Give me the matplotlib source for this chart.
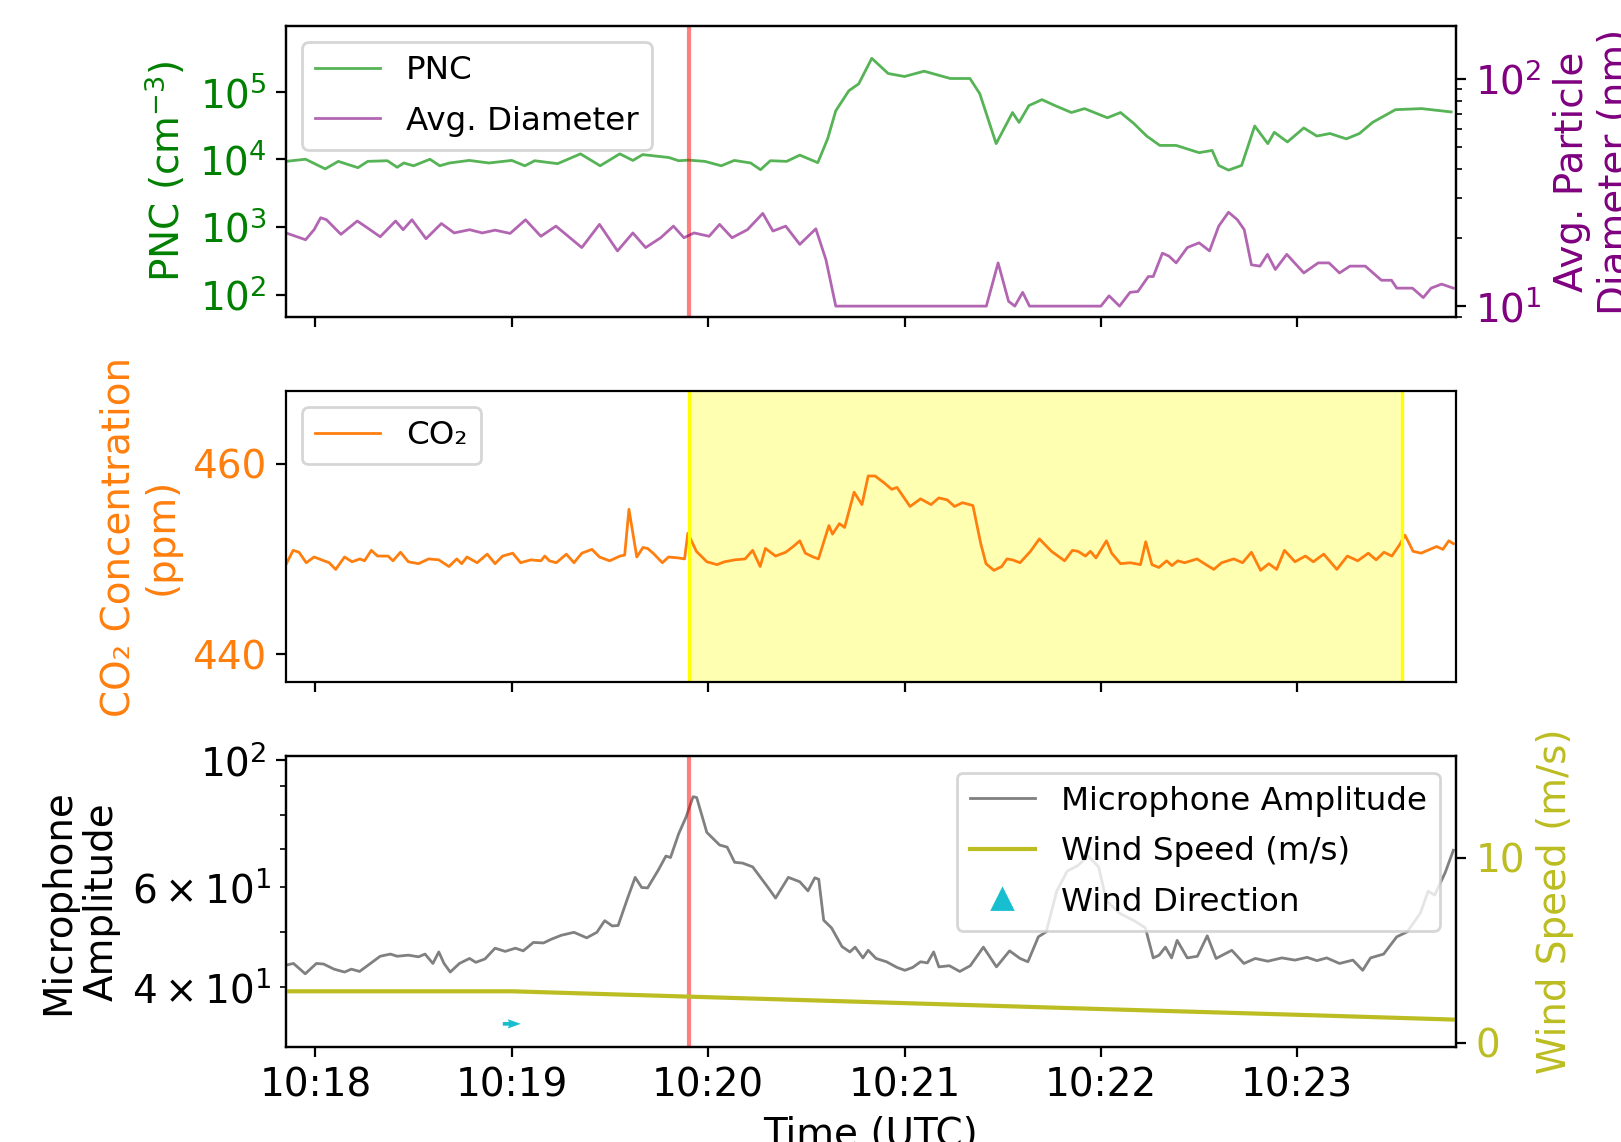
import numpy as np
import pandas as pd
import matplotlib
matplotlib.use('Agg')
import matplotlib.pyplot as plt
import matplotlib.dates as mdates
from matplotlib.lines import Line2D
from matplotlib.ticker import NullLocator

plt.rcParams['font.family'] = 'DejaVu Sans'
plt.rcParams['font.size'] = 14

start = pd.Timestamp('2023-06-01 10:17:51')
event_time = pd.Timestamp('2023-06-01 10:19:54')
span_end = pd.Timestamp('2023-06-01 10:23:32')
x_end = pd.Timestamp('2023-06-01 10:23:48.5')

# particle number concentration (seconds after start, cm^-3)
pnc_sec = [0, 6, 12, 16, 22, 25, 31, 34, 36, 39, 44, 47, 50, 56, 62, 69, 73, 76, 83, 90,
           96, 102, 106, 109, 117, 120, 123, 128, 133, 137, 142, 145, 148, 153, 157, 162.5,
           165.5, 168, 172, 175, 179, 184, 189, 195, 203, 209, 212, 217, 222, 224, 227, 231,
           235, 240, 244, 251, 255, 259, 263, 267, 272, 279, 283, 285, 288, 292, 296, 300,
           302, 306, 311, 315, 319, 324, 328, 332, 339, 347, 356]
pnc = [9300, 10000, 7200, 9300, 7500, 9300, 9500, 7600, 8800, 8000, 10000, 8000, 8800, 9600,
       8800, 9600, 8000, 9500, 8600, 12000, 8000, 12000, 9600, 11700, 10600, 9500, 9700, 9300,
       8000, 9600, 8800, 7000, 9500, 9300, 11500, 8900, 20000, 52000, 103000, 130000, 310000,
       185000, 167000, 200000, 156000, 156000, 93000, 17000, 49000, 35000, 62000, 76000,
       62000, 49000, 56000, 41000, 49000, 34000, 22000, 16000, 16000, 12500, 13500, 8100,
       6900, 8100, 31000, 17000, 25000, 18000, 29000, 22000, 24000, 20000, 24000, 35000,
       54000, 56000, 50000]

# average particle diameter (nm)
dia_sec = [0, 6, 8.6, 10.6, 12.4, 16.8, 21.8, 24.9, 28.8, 33.5, 35.8, 38.5, 42.8, 47.5, 51.4,
           56.1, 60, 63.9, 68.5, 73.2, 77.9, 82.5, 90.4, 95.8, 101.3, 106, 109.9, 114.5, 118.4,
           121.6, 124.7, 129.3, 132.5, 136.3, 141, 145.7, 148.8, 152.7, 157, 161.9, 165, 168,
           214, 217.6, 220.8, 222.7, 225.1, 227.2, 249, 251.5, 254.7, 257.9, 260.3, 263.5, 265,
           267.8, 269.8, 272, 275.4, 279, 282.2, 285, 288, 290.7, 292.8, 295, 297.6, 299.9,
           302.3, 305.8, 311, 315.4, 318.7, 321.9, 325.1, 329.8, 334.7, 337.8, 339.4, 344.2,
           347.5, 349.9, 353.1, 356.7]
dia = [21, 19.6, 21.7, 24.5, 24, 20.7, 23.7, 22.1, 20.2, 23.7, 21.7, 24, 19.8, 23.1, 21, 21.7,
       21, 21.6, 20.9, 24, 20.3, 22.5, 18.1, 22.9, 17.5, 21, 18.1, 20, 22.5, 20, 21, 20.3, 22.9,
       20, 21.7, 25.6, 21.4, 22.5, 18.7, 21.9, 16, 10, 10, 15.5, 10.5, 10, 11.5, 10, 10, 11.1,
       10, 11.5, 11.6, 13.5, 13.5, 17.1, 16.6, 15.5, 18.1, 19, 17.5, 22.5, 25.9, 24, 21.7, 15.2,
       15, 16.9, 14.5, 16.9, 14, 15.5, 15.5, 14, 15, 15, 13, 13, 12, 12, 10.9, 12, 12.5, 12]

# CO2 concentration (ppm)
co2_sec = [0, 2.2, 4, 6.2, 8.6, 10.9, 13.2, 15.2, 17.9, 20.2, 22.6, 24, 26.1, 28, 31.2, 32.7,
           35, 37.4, 40.5, 43.6, 46.7, 49.8, 52.2, 53.7, 55.3, 58.4, 61.5, 63.9, 66.2, 69.3,
           71.7, 74.8, 77.9, 79.1, 80.5, 82.6, 85.7, 88, 90.4, 93.5, 95.8, 98.9, 102.1, 103.5,
           104.8, 107.2, 109.1, 110.5, 112.2, 115, 116.9, 120, 121.8, 122.8, 125.4, 128.6,
           131.7, 134, 137.1, 140.3, 142.6, 144.9, 146.5, 149.6, 152.7, 155, 157, 158.7, 161.1,
           162.7, 165.9, 167, 169.1, 170.7, 173.6, 176, 177.9, 180, 182.7, 185.1, 186.7, 190.7,
           193.9, 197.1, 199.5, 202, 204.3, 206.7, 209.9, 212.3, 213.9, 216.3, 218.7, 220.3,
           222, 224.3, 227.5, 230.2, 233.9, 237.9, 240.3, 242, 244.3, 245.8, 247.5, 250.7,
           252.3, 255, 258, 261.1, 262.7, 264.6, 266.7, 269.1, 270.7, 272.5, 274.6, 278.4,
           281.1, 283.5, 285.9, 289.6, 292.3, 295, 297.8, 300.3, 302.7, 305.1, 308.3, 311.5,
           313.9, 317.1, 321.1, 324.3, 327.5, 330.7, 333.1, 335.5, 337.9, 340.3, 341.9, 344.4,
           346.8, 351.6, 353.5, 355.3, 356.7]
co2 = [449.4, 450.9, 450.7, 449.6, 450.2, 449.9, 449.6, 448.9, 450.2, 449.7, 450, 449.8, 450.9,
       450.3, 450.3, 449.8, 450.7, 449.7, 449.5, 450, 449.9, 449.2, 450, 449.5, 450.2, 449.6,
       450.5, 449.5, 450.3, 450.6, 449.6, 449.9, 449.8, 450.3, 449.8, 449.6, 450.5, 449.6,
       450.6, 451, 450.2, 449.8, 450.3, 450.4, 455.2, 450.2, 451.2, 451.1, 450.6, 449.6, 450.2,
       450.1, 450.0, 452.7, 450.8, 449.7, 449.4, 449.7, 449.9, 450, 450.9, 449.2, 451.1, 450.3,
       450.7, 451.3, 451.9, 450.6, 450.2, 450, 453.5, 452.6, 453.7, 453.3, 457.0, 455.7, 458.7,
       458.7, 458, 457.3, 457.5, 455.5, 456.3, 455.7, 456.4, 456.2, 455.5, 455.9, 455.6, 451.6,
       449.5, 448.8, 449.2, 450, 449.9, 449.6, 450.8, 452.1, 450.8, 449.8, 450.9, 450.8, 450.3,
       450.8, 450.1, 451.9, 450.6, 449.5, 449.6, 449.4, 451.8, 449.4, 449.1, 449.8, 449.3,
       449.8, 449.6, 450, 449.4, 448.9, 449.6, 450, 449.6, 450.7, 448.8, 449.5, 448.9, 450.9,
       449.7, 450.3, 449.7, 450.5, 448.9, 450.3, 449.8, 450.6, 449.9, 450.7, 450.3, 451.5,
       452.5, 450.8, 450.6, 451.3, 451.0, 451.9, 451.6]

# microphone amplitude
mic_sec = [0, 2.3, 5.9, 9.3, 11.5, 14.7, 17.9, 20, 22.5, 24.9, 28.8, 31.9, 34, 37.4, 40.5, 42.5,
           44.9, 46.7, 48.3, 50.2, 53, 56.1, 58, 60.8, 63.9, 67, 70.1, 72.5, 75.6, 78.7, 81,
           84.1, 88, 91.9, 95, 97.4, 99.7, 101.5, 104.4, 106.7, 108.7, 110.5, 113.8, 116.1,
           117.5, 120, 122.3, 124.4, 125.5, 128.6, 132.5, 134.8, 137.1, 139.5, 142.6, 144.9,
           147.3, 149.6, 153.5, 157, 159.5, 161.6, 162.8, 164.3, 166.7, 169.9, 172.3, 173.9,
           176.3, 177.9, 180.3, 183.5, 186.7, 189.1, 191.5, 193.9, 196, 197.9, 199.5, 202.7,
           205.9, 209.1, 213.1, 217.1, 221.1, 224.3, 226.7, 229.9, 232.3, 235.5, 238.7, 241.9,
           245.1, 248.3, 250.7, 254.7, 259.4, 262.6, 265, 266.8, 268.7, 270.6, 272.3, 275.4,
           278.5, 281.5, 284.2, 289, 292.7, 296.2, 300, 304.3, 308.3, 312, 315, 318, 321.9, 326,
           329, 331.4, 335.4, 339.4, 342.6, 346.6, 349, 351, 354.2, 356.7]
mic = [43.7, 44, 42.2, 44, 43.9, 43, 42.5, 43, 42.6, 43.6, 45.3, 45.7, 45.3, 45.5, 45.2, 45.7,
       44, 46.1, 44, 42.5, 44, 44.9, 44.2, 44.8, 46.8, 46.2, 46.8, 46.3, 47.9, 47.8, 48.5, 49.3,
       49.9, 48.8, 49.9, 52.3, 51.2, 51.3, 57.3, 62.3, 59.8, 59.7, 64.2, 67.9, 67.5, 74.3, 79.6,
       86.3, 86, 74.7, 71, 70.4, 66.2, 66, 65, 62.4, 59.8, 57.3, 62.3, 61.2, 59, 62.2, 61.8,
       52.4, 50.8, 47.1, 46.1, 47, 45, 46.4, 44.9, 44.3, 43.3, 42.8, 43.3, 44.3, 44.1, 46.1,
       43.4, 43.6, 42.6, 43.6, 47, 43.4, 46.3, 44.9, 44.3, 49, 50, 58.9, 63.9, 65.3, 67.9, 65,
       56.7, 53.9, 52.2, 50.8, 45, 45.5, 47, 45, 48.3, 45, 45.3, 49.2, 44.9, 46.4, 44, 44.9,
       44.4, 45, 44.6, 45.1, 44.5, 45, 44, 44.6, 42.8, 45, 45.7, 49, 50, 53.9, 58.9, 58, 63.5,
       69.5]

# wind (m/s)
wind_sec = [0, 69, 129, 189, 249, 309, 357]
wind_speed = [2.79, 2.79, 2.47, 2.15, 1.83, 1.52, 1.26]
wind_dir_sec = [69]
wind_dir_u = [1.0]
wind_dir_v = [0.0]

pnc_ticks = [1e2, 1e3, 1e4, 1e5]


def to_time(sec):
    return start + pd.to_timedelta(np.array(sec, dtype=float), unit='s')


fig, (ax1, ax2, ax3) = plt.subplots(3, 1, sharex=True, figsize=(8.105, 5.71), dpi=200)
fig.subplots_adjust(left=0.1764, right=0.8982, bottom=0.0832, top=0.9772, hspace=0.256)

# --- PNC and diameter
l1, = ax1.plot(to_time(pnc_sec), pnc, color='tab:green', alpha=0.8, lw=1, label='PNC')
ax1.set_yscale('log')
ax1.set_ylim(47, 9.3e5)
ax1.set_yticks(pnc_ticks)
ax1.yaxis.set_minor_locator(NullLocator())
ax1.set_ylabel('PNC (cm$^{-3}$)', color='green')
ax1.tick_params(axis='y', labelcolor='green')
ax1.axvline(event_time, color='red', alpha=0.5, lw=1.5)

ax1b = ax1.twinx()
l2, = ax1b.plot(to_time(dia_sec), dia, color='purple', alpha=0.6, lw=1, label='Avg. Diameter')
ax1b.set_yscale('log')
ax1b.set_ylim(8.98, 171)
ax1b.set_ylabel('Avg. Particle\nDiameter (nm)', color='purple')
ax1b.tick_params(axis='y', labelcolor='purple')
ax1b.legend(handles=[l1, l2], loc='upper left', fontsize=11.7, labelspacing=0.6)

# --- CO2
l3, = ax2.plot(to_time(co2_sec), co2, color='tab:orange', lw=1, label='CO₂')
ax2.axvspan(event_time, span_end, color='yellow', alpha=0.3, lw=0)
ax2.axvline(event_time, color='yellow', lw=1.2)
ax2.axvline(span_end, color='yellow', lw=1.2)
ax2.set_ylim(437.1, 467.6)
ax2.set_ylabel('CO₂ Concentration\n(ppm)', color='tab:orange')
ax2.tick_params(axis='y', labelcolor='tab:orange')
ax2.legend(handles=[l3], loc='upper left', fontsize=11.7, labelspacing=0.6)

# --- microphone and wind
l4, = ax3.plot(to_time(mic_sec), mic, color='gray', lw=1, label='Microphone Amplitude')
ax3.set_yscale('log')
ax3.set_ylim(31.4, 101.6)
ax3.set_ylabel('Microphone\nAmplitude')
ax3.axvline(event_time, color='red', alpha=0.5, lw=1.5)
ax3.set_xlabel('Time (UTC)')

ax3b = ax3.twinx()
l5, = ax3b.plot(to_time(wind_sec), wind_speed, color='tab:olive', lw=1.5, label='Wind Speed (m/s)')
ax3b.quiver(mdates.date2num(to_time(wind_dir_sec)), [1.03], wind_dir_u, wind_dir_v,
            color='tab:cyan', pivot='middle', units='dots', width=3.7,
            scale=1 / 18, scale_units='dots', headwidth=2.5, headlength=3.5,
            headaxislength=3.2)
ax3b.set_ylim(-0.22, 15.49)
ax3b.set_yticks([0, 10])
ax3b.set_ylabel('Wind Speed (m/s)', color='tab:olive')
ax3b.tick_params(axis='y', labelcolor='tab:olive')
l6 = Line2D([], [], marker='^', color='tab:cyan', linestyle='None', markersize=7.5,
            label='Wind Direction')
ax3b.legend(handles=[l4, l5, l6], loc='upper right', fontsize=11.7, labelspacing=0.6)

ax3.xaxis.set_major_locator(mdates.MinuteLocator())
ax3.xaxis.set_major_formatter(mdates.DateFormatter('%H:%M'))
ax3.set_xlim(start, x_end)

fig.savefig('out.png', dpi=200)
